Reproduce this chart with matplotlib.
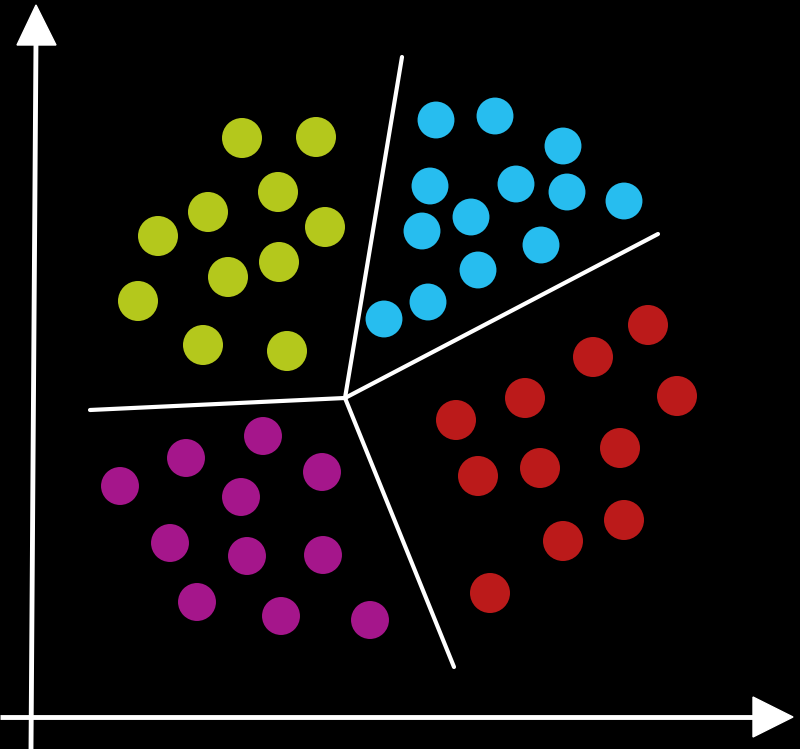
import matplotlib.pyplot as plt
from matplotlib.patches import Polygon

# cluster points (image pixel coords, y downward)
green_x = [242, 316, 278, 208, 325, 158, 228, 279, 138, 203, 287]
green_y = [138, 137, 192, 212, 227, 236, 277, 262, 301, 345, 351]

cyan_x = [436, 495, 563, 430, 516, 567, 624, 422, 471, 541, 478, 428, 384]
cyan_y = [120, 116, 146, 186, 184, 192, 201, 231, 217, 245, 270, 302, 319]

red_x = [648, 593, 677, 525, 456, 620, 540, 478, 624, 563, 490]
red_y = [325, 357, 396, 398, 420, 448, 468, 476, 520, 541, 593]

mag_x = [263, 186, 322, 120, 241, 170, 247, 323, 197, 281, 370]
mag_y = [436, 458, 472, 486, 497, 543, 556, 555, 602, 616, 620]

# voronoi-like boundaries from a common centre
centre = (345, 398)
ends_x = [402, 658, 454, 90]
ends_y = [57, 234, 667, 410]

fig = plt.figure(figsize=(8, 7.49), dpi=100, facecolor='black')
ax = fig.add_axes([0, 0, 1, 1])
ax.set_facecolor('black')
ax.set_xlim(0, 800)
ax.set_ylim(749, 0)
ax.axis('off')

# axes arrows
ax.plot([31, 36], [749, 40], color='white', lw=3.5, solid_capstyle='butt')
ax.plot([0, 756], [717, 717], color='white', lw=3.5, solid_capstyle='butt')
ax.add_patch(Polygon([[17, 45], [56, 45], [36, 5]], closed=True, color='white'))
ax.add_patch(Polygon([[753, 697], [753, 737], [793, 717]], closed=True, color='white'))

for ex, ey in zip(ends_x, ends_y):
    ax.plot([centre[0], ex], [centre[1], ey], color='white', lw=3, solid_capstyle='round')

s = 830
ax.scatter(green_x, green_y, s=s, color='#b4c81c', edgecolors='none', zorder=3)
ax.scatter(cyan_x, cyan_y, s=s * 0.85, color='#27bdef', edgecolors='none', zorder=3)
ax.scatter(red_x, red_y, s=s, color='#bb1a1a', edgecolors='none', zorder=3)
ax.scatter(mag_x, mag_y, s=s * 0.9, color='#a5168b', edgecolors='none', zorder=3)

fig.savefig('out.png', dpi=100, facecolor='black')
